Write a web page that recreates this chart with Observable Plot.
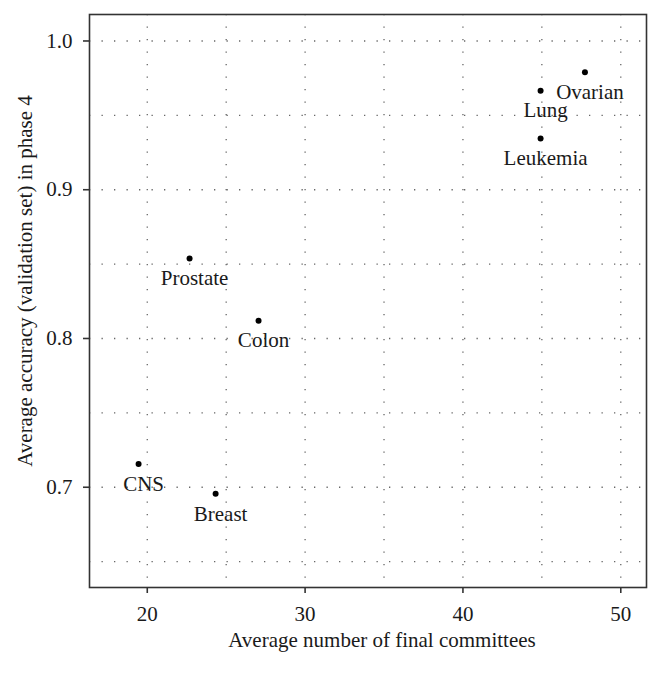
<!DOCTYPE html>
<html>
<head>
<meta charset="utf-8">
<script src="https://cdn.jsdelivr.net/npm/d3@7"></script>
<script src="https://cdn.jsdelivr.net/npm/@observablehq/plot@0.6"></script>
<style>
  html, body { margin: 0; padding: 0; background: #fff; }
</style>
</head>
<body>
<div id="chart"></div>
<script>
const cancers = ["Ovarian", "Lung", "Leukemia", "Prostate", "Colon", "CNS", "Breast"];
const committees = [47.73, 44.92, 44.92, 22.68, 27.05, 19.45, 24.33];
const accuracy = [0.979, 0.9666, 0.9345, 0.8538, 0.812, 0.7157, 0.6956];

const xTicks = [20, 30, 40, 50];
const yTicks = [0.7, 0.8, 0.9, 1.0];
const xGrid = [20, 25, 30, 35, 40, 45, 50];
const yGrid = [0.65, 0.7, 0.75, 0.8, 0.85, 0.9, 0.95, 1.0];

const xTitle = "Average number of final committees";
const yTitle = "Average accuracy (validation set) in phase 4";

const data = cancers.map((name, i) => ({name, x: committees[i], y: accuracy[i]}));

const font = "Liberation Serif, Times New Roman, serif";
const ink = "#1a1a1a";
const fs = 21;

const chart = Plot.plot({
  width: 660,
  height: 673,
  marginLeft: 89,
  marginRight: 14,
  marginTop: 14,
  marginBottom: 86,
  style: {fontFamily: font, fontSize: fs + "px", color: ink, background: "#fff"},
  x: {domain: [16.34, 51.63]},
  y: {domain: [0.6326, 1.0178]},
  marks: [
    Plot.gridX(xGrid, {stroke: "#666", strokeOpacity: 1, strokeWidth: 1.3, strokeDasharray: "1.3,11.2"}),
    Plot.gridY(yGrid, {stroke: "#666", strokeOpacity: 1, strokeWidth: 1.3, strokeDasharray: "1.3,11.2"}),
    Plot.axisX(xTicks, {tickSize: 6, tickPadding: 13, tickFormat: d => String(d), label: null, stroke: "#333", strokeWidth: 1.6, fontSize: fs, fill: ink}),
    Plot.axisY(yTicks, {tickSize: 6, tickPadding: 11, tickFormat: d3.format(".1f"), label: null, stroke: "#333", strokeWidth: 1.6, fontSize: fs, fill: ink}),
    Plot.frame({stroke: "#333", strokeWidth: 1.6}),
    Plot.dot(data, {x: "x", y: "y", r: 3, fill: "#000", stroke: null}),
    Plot.text(data, {x: "x", y: "y", text: "name", dx: 5, dy: 20, fontSize: fs, fill: ink}),
    Plot.text([xTitle], {frameAnchor: "bottom", text: d => d, textAnchor: "middle", lineAnchor: "middle", dx: 14, dy: 53, fontSize: fs, fill: ink}),
    Plot.text([yTitle], {frameAnchor: "left", text: d => d, textAnchor: "middle", lineAnchor: "middle", rotate: -90, dx: -64, dy: -20, fontSize: fs, fill: ink})
  ]
});

document.getElementById("chart").appendChild(chart);
</script>
</body>
</html>
